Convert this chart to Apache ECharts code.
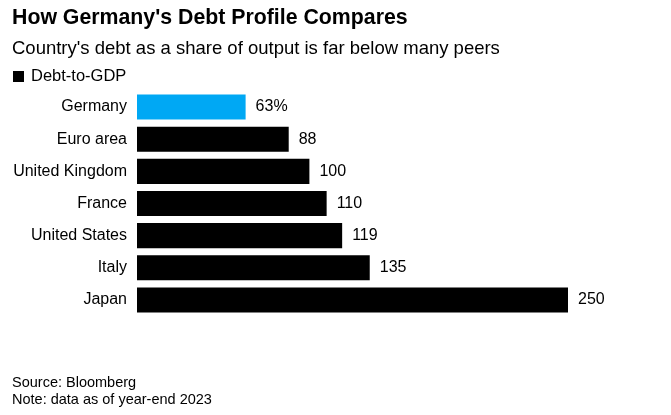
<!DOCTYPE html>
<html><head><meta charset="utf-8">
<script src="https://cdn.jsdelivr.net/npm/echarts@6/dist/echarts.min.js"></script>
<style>html,body{margin:0;padding:0;background:#fff}#c{width:671px;height:415px}</style>
</head><body><div id="c"></div>
<script>
const categories = ["Germany","Euro area","United Kingdom","France","United States","Italy","Japan"];
const debtToGdp = [63, 88, 100, 110, 119, 135, 250];
const highlight = "Germany";
const FONT = "Liberation Sans, Arial, sans-serif";
const chart = echarts.init(document.getElementById('c'), null, {renderer:'canvas'});
chart.setOption({
  backgroundColor:'#fff',
  animation:false,
  title:[
    {text:"How Germany's Debt Profile Compares", left:12, top:8, padding:0, textStyle:{fontFamily:FONT, fontSize:21.3, fontWeight:'bold', color:'#000'}},
    {text:"Country's debt as a share of output is far below many peers", left:12, top:39, padding:0, textStyle:{fontFamily:FONT, fontSize:18.5, fontWeight:'normal', color:'#000'}},
    {text:"Source: Bloomberg\nNote: data as of year-end 2023", left:12, top:374, padding:0, textStyle:{fontFamily:FONT, fontSize:14.5, fontWeight:'normal', color:'#000', lineHeight:17}}
  ],
  legend:{left:13, top:68, padding:0, itemWidth:11, itemHeight:11, icon:'rect',
    textStyle:{fontFamily:FONT, fontSize:16.5, color:'#000', padding:[0,0,0,2]}, data:[{name:'Debt-to-GDP', itemStyle:{color:'#000'}}]},
  grid:{left:137, top:91, width:431, height:225, containLabel:false},
  xAxis:{type:'value', min:0, max:250, show:false},
  yAxis:{type:'category', inverse:true, data:categories,
    axisLine:{show:false}, axisTick:{show:false},
    axisLabel:{fontFamily:FONT, fontSize:16, color:'#000', margin:10}},
  series:[{name:'Debt-to-GDP', type:'bar', barCategoryGap:'22%',
    data: debtToGdp.map((v,i)=>({value:v, itemStyle:{color: categories[i]===highlight ? '#00a8f4' : '#000'}})),
    label:{show:true, position:'right', distance:10, fontFamily:FONT, fontSize:16, color:'#000',
      formatter:(p)=> p.dataIndex===0 ? p.value+'%' : String(p.value)}
  }]
});
</script></body></html>
